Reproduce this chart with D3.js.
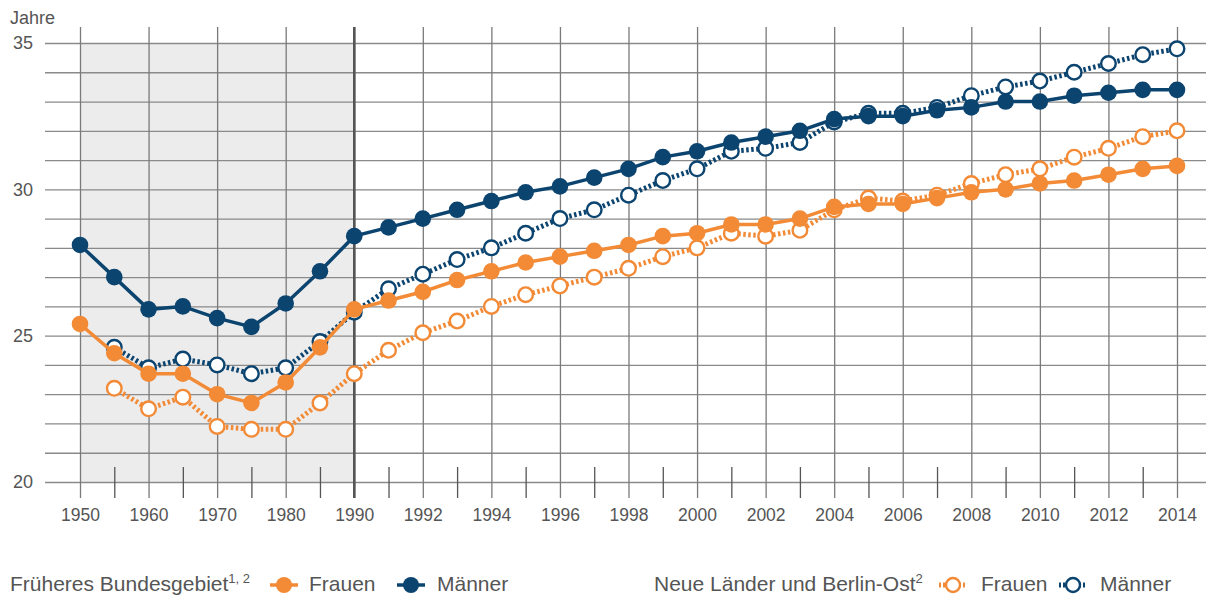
<!DOCTYPE html>
<html>
<head>
<meta charset="utf-8">
<script src="https://cdn.jsdelivr.net/npm/d3@7"></script>
<style>
body { margin: 0; background: #fff; }
text { font-family: "Liberation Sans", Arial, sans-serif; fill: #555; }
</style>
</head>
<body>
<script>
var width = 1206, height = 597;

var years = [1950, 1955, 1960, 1965, 1970, 1975, 1980, 1985,
  1990, 1991, 1992, 1993, 1994, 1995, 1996, 1997, 1998, 1999, 2000, 2001, 2002,
  2003, 2004, 2005, 2006, 2007, 2008, 2009, 2010, 2011, 2012, 2013, 2014];
var majorYears = [1950, 1960, 1970, 1980, 1990, 1992, 1994, 1996, 1998, 2000,
  2002, 2004, 2006, 2008, 2010, 2012, 2014];
var yLabels = [20, 25, 30, 35];

// Früheres Bundesgebiet
var fbFrauen = [25.4, 24.4, 23.7, 23.7, 23.0, 22.7, 23.4, 24.6,
  25.9, 26.2, 26.5, 26.9, 27.2, 27.5, 27.7, 27.9, 28.1, 28.4, 28.5, 28.8, 28.8,
  29.0, 29.4, 29.5, 29.5, 29.7, 29.9, 30.0, 30.2, 30.3, 30.5, 30.7, 30.8];
var fbMaenner = [28.1, 27.0, 25.9, 26.0, 25.6, 25.3, 26.1, 27.2,
  28.4, 28.7, 29.0, 29.3, 29.6, 29.9, 30.1, 30.4, 30.7, 31.1, 31.3, 31.6, 31.8,
  32.0, 32.4, 32.5, 32.5, 32.7, 32.8, 33.0, 33.0, 33.2, 33.3, 33.4, 33.4];
// Neue Länder und Berlin-Ost (ab 1955)
var nlFrauen = [null, 23.2, 22.5, 22.9, 21.9, 21.8, 21.8, 22.7,
  23.7, 24.5, 25.1, 25.5, 26.0, 26.4, 26.7, 27.0, 27.3, 27.7, 28.0, 28.5, 28.4,
  28.6, 29.3, 29.7, 29.6, 29.8, 30.2, 30.5, 30.7, 31.1, 31.4, 31.8, 32.0];
var nlMaenner = [null, 24.6, 23.9, 24.2, 24.0, 23.7, 23.9, 24.8,
  25.8, 26.6, 27.1, 27.6, 28.0, 28.5, 29.0, 29.3, 29.8, 30.3, 30.7, 31.3, 31.4,
  31.6, 32.3, 32.6, 32.6, 32.8, 33.2, 33.5, 33.7, 34.0, 34.3, 34.6, 34.8];

var navy = "#0c4470", orange = "#f28a36";

var svg = d3.select("body").append("svg")
    .attr("width", width)
    .attr("height", height);

var x = d3.scalePoint().domain(years).range([80, 1177]);
var y = d3.scaleLinear().domain([20, 35]).range([482, 43]);

// shaded area (Früheres Bundesgebiet bis 1990)
svg.append("rect")
    .attr("x", x(1950)).attr("y", y(35))
    .attr("width", x(1990) - x(1950)).attr("height", y(20) - y(35))
    .attr("fill", "#ececec");

// horizontal grid + y labels
var yAxis = svg.append("g")
    .attr("transform", "translate(45,0)")
    .call(d3.axisLeft(y).tickValues(d3.range(20, 36))
      .tickSize(-(width - 45)).tickPadding(12)
      .tickFormat(function(d) { return yLabels.indexOf(d) >= 0 ? d : ""; }));
yAxis.select(".domain").remove();
yAxis.selectAll("line").attr("stroke", "#8a8a8a").attr("stroke-width", 1.3);
yAxis.selectAll("text").style("font-size", "18px").attr("fill", "#555");

// vertical grid + x labels
var xAxis = svg.append("g")
    .attr("transform", "translate(0,498)")
    .call(d3.axisBottom(x).tickValues(majorYears)
      .tickSize(-471).tickPadding(11));
xAxis.select(".domain").remove();
xAxis.selectAll("line").attr("stroke", "#7a7a7a").attr("stroke-width", 1.3);
xAxis.selectAll("text").style("font-size", "17.5px").attr("fill", "#555");

// minor ticks
var minor = years.filter(function(d) { return majorYears.indexOf(d) < 0; });
var xMinor = svg.append("g")
    .attr("transform", "translate(0,498)")
    .call(d3.axisBottom(x).tickValues(minor).tickSize(-31).tickFormat(""));
xMinor.select(".domain").remove();
xMinor.selectAll("line").attr("stroke", "#555").attr("stroke-width", 1.3);

// 1990 divider
svg.append("line")
    .attr("x1", x(1990)).attr("x2", x(1990))
    .attr("y1", 27).attr("y2", 498)
    .attr("stroke", "#555").attr("stroke-width", 2.5);

svg.append("text").attr("x", 10).attr("y", 24)
    .style("font-size", "18px").text("Jahre");

var line = d3.line()
    .defined(function(d) { return d != null; })
    .x(function(d, i) { return x(years[i]); })
    .y(function(d) { return y(d); });

var series = [
  { values: nlFrauen, color: orange, dotted: true },
  { values: nlMaenner, color: navy, dotted: true },
  { values: fbFrauen, color: orange, dotted: false },
  { values: fbMaenner, color: navy, dotted: false }
];

series.forEach(function(s) {
  var g = svg.append("g");
  g.append("path")
      .attr("d", line(s.values))
      .attr("fill", "none")
      .attr("stroke", s.color)
      .attr("stroke-width", s.dotted ? 5 : 3.5)
      .attr("stroke-dasharray", s.dotted ? "2.5,2.5" : null);
  g.selectAll("circle")
      .data(s.values.map(function(v, i) { return { v: v, year: years[i] }; })
        .filter(function(d) { return d.v != null; }))
      .enter().append("circle")
      .attr("cx", function(d) { return x(d.year); })
      .attr("cy", function(d) { return y(d.v); })
      .attr("r", s.dotted ? 7.3 : 8.3)
      .attr("fill", s.dotted ? "#fff" : s.color)
      .attr("stroke", s.dotted ? s.color : "none")
      .attr("stroke-width", 2.4);
});

// legend
var legY = 585;
var lg = svg.append("g");
function legendText(xp, str) {
  return lg.append("text").attr("x", xp).attr("y", 591)
      .style("font-size", "21px").text(str);
}
function legendMarker(cx, color, dotted) {
  lg.append("line").attr("x1", cx - 14).attr("x2", cx + 14)
      .attr("y1", legY).attr("y2", legY)
      .attr("stroke", color).attr("stroke-width", dotted ? 5 : 3.5)
      .attr("stroke-dasharray", dotted ? "2,2" : null);
  lg.append("circle").attr("cx", cx).attr("cy", legY)
      .attr("r", dotted ? 7 : 8)
      .attr("fill", dotted ? "#fff" : color)
      .attr("stroke", dotted ? color : "none").attr("stroke-width", 2.4);
}
var t1 = legendText(10, "Früheres Bundesgebiet");
t1.append("tspan").attr("dy", -8).style("font-size", "13px").text("1, 2");
legendMarker(284, orange, false);
legendText(309, "Frauen");
legendMarker(411, navy, false);
legendText(437, "Männer");

var t2 = legendText(654, "Neue Länder und Berlin-Ost");
t2.append("tspan").attr("dy", -8).style("font-size", "13px").text("2");
legendMarker(953, orange, true);
legendText(981, "Frauen");
legendMarker(1073, navy, true);
legendText(1100, "Männer");
</script>
</body>
</html>
